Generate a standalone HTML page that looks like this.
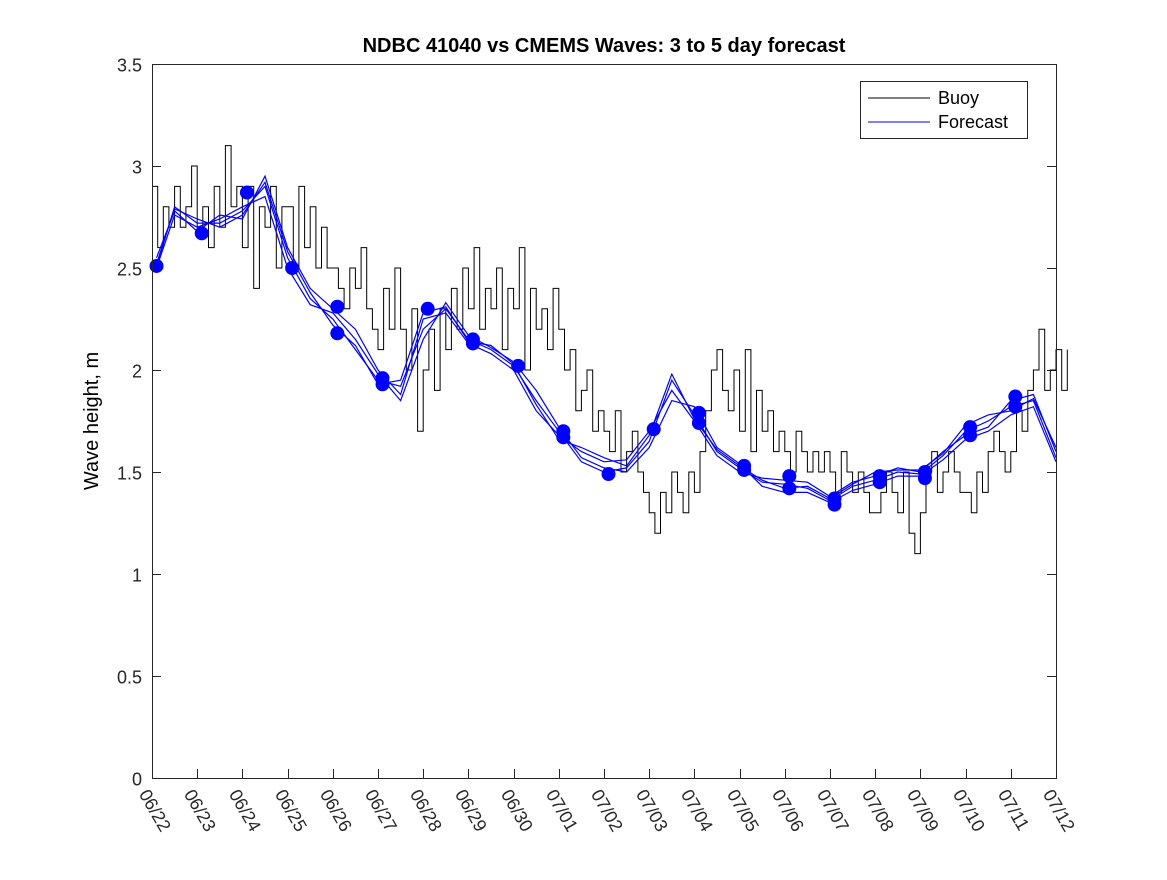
<!DOCTYPE html>
<html><head><meta charset="utf-8"><style>
body{margin:0;background:#fff;}
svg text{font-family:"Liberation Sans","DejaVu Sans",sans-serif;}
</style></head><body>
<svg id="chart" width="1167" height="875" viewBox="0 0 1167 875" xmlns="http://www.w3.org/2000/svg">
<rect x="0" y="0" width="1167" height="875" fill="#fff"/>
<text x="604" y="52" text-anchor="middle" font-size="20" font-weight="bold">NDBC 41040 vs CMEMS Waves: 3 to 5 day forecast</text>
<text transform="translate(98,421) rotate(-90)" text-anchor="middle" font-size="20">Wave height, m</text>
<g id="plot"></g>
<rect x="152.5" y="64.5" width="904" height="714" fill="none" stroke="#262626" stroke-width="1"/>
<g>
<rect x="860.5" y="81.5" width="167" height="57" fill="#fff" stroke="#262626"/>
<line x1="868" y1="98" x2="930" y2="98" stroke="#000"/>
<text x="938" y="104" font-size="18">Buoy</text>
<line x1="868" y1="122" x2="930" y2="122" stroke="#00f"/>
<text x="938" y="128" font-size="18">Forecast</text>
</g>
</svg>
<script>
const yTicks=[0,0.5,1,1.5,2,2.5,3,3.5];
const xTickLabels=["06/22","06/23","06/24","06/25","06/26","06/27","06/28","06/29","06/30","07/01","07/02","07/03","07/04","07/05","07/06","07/07","07/08","07/09","07/10","07/11","07/12"];
const buoyStep=0.125;
const buoy=[2.9,2.6,2.8,2.7,2.9,2.7,2.8,3.0,
2.7,2.8,2.6,2.9,2.7,3.1,2.8,2.9,
2.6,2.9,2.4,2.8,2.7,2.9,2.5,2.8,
2.8,2.5,2.9,2.6,2.8,2.5,2.7,2.5,
2.5,2.4,2.3,2.5,2.4,2.6,2.3,2.2,
2.1,2.4,2.2,2.5,2.2,2.0,2.3,1.7,
2.0,2.2,1.9,2.3,2.1,2.4,2.2,2.5,
2.3,2.6,2.2,2.4,2.3,2.5,2.1,2.4,
2.3,2.6,2.0,2.4,2.2,2.3,2.1,2.4,
2.2,2.0,2.1,1.8,1.9,2.0,1.7,1.8,
1.7,1.6,1.8,1.5,1.6,1.7,1.5,1.4,
1.3,1.2,1.4,1.3,1.5,1.4,1.3,1.5,
1.4,1.6,1.8,2.0,2.1,1.9,1.8,2.0,
1.7,2.1,1.6,1.9,1.7,1.8,1.6,1.7,
1.6,1.5,1.7,1.6,1.5,1.6,1.5,1.6,
1.5,1.4,1.6,1.5,1.4,1.5,1.4,1.3,
1.3,1.4,1.5,1.4,1.3,1.5,1.2,1.1,
1.3,1.5,1.6,1.4,1.5,1.6,1.5,1.4,
1.4,1.3,1.5,1.4,1.6,1.7,1.6,1.5,
1.6,1.8,1.7,1.9,2.0,2.2,1.9,2.0,
2.1,1.9,2.1];
const fcStep=0.5;
const fcA=[2.51,2.80,2.72,2.72,2.78,2.90,2.55,2.35,2.25,2.10,1.95,1.92,2.20,2.30,2.15,2.10,2.02,1.85,1.70,1.55,1.50,1.52,1.65,1.95,1.78,1.60,1.52,1.45,1.44,1.42,1.36,1.43,1.46,1.50,1.49,1.58,1.70,1.75,1.82,1.85,1.57];
const fcB=[2.55,2.78,2.68,2.76,2.74,2.95,2.60,2.40,2.30,2.20,2.00,1.88,2.25,2.28,2.13,2.08,2.00,1.80,1.68,1.60,1.55,1.56,1.70,1.90,1.75,1.58,1.50,1.47,1.46,1.45,1.38,1.45,1.48,1.52,1.50,1.60,1.68,1.72,1.85,1.88,1.60];
const fcC=[2.50,2.76,2.70,2.74,2.80,2.85,2.50,2.32,2.28,2.15,1.98,1.85,2.15,2.33,2.17,2.11,2.04,1.90,1.72,1.57,1.52,1.50,1.62,1.85,1.82,1.62,1.54,1.43,1.40,1.40,1.35,1.41,1.44,1.48,1.48,1.56,1.66,1.70,1.78,1.82,1.55];
const fcD=[2.52,2.79,2.74,2.70,2.76,2.92,2.58,2.38,2.22,2.12,1.93,1.95,2.28,2.31,2.14,2.12,2.03,1.83,1.66,1.62,1.57,1.53,1.68,1.98,1.76,1.61,1.53,1.46,1.42,1.43,1.37,1.44,1.50,1.51,1.51,1.59,1.73,1.78,1.80,1.86,1.62];
const markerDays=[0.1,1.1,2.1,3.1,4.1,4.1,5.1,5.1,6.1,7.1,7.1,8.1,9.1,9.1,10.1,11.1,12.1,12.1,13.1,13.1,14.1,14.1,15.1,15.1,16.1,16.1,17.1,17.1,18.1,18.1,19.1,19.1];
const markerVals=[2.51,2.67,2.87,2.50,2.31,2.18,1.96,1.93,2.30,2.15,2.13,2.02,1.70,1.67,1.49,1.71,1.79,1.74,1.53,1.51,1.48,1.42,1.37,1.34,1.48,1.45,1.50,1.47,1.72,1.68,1.87,1.82];

const X0=152,X1=1056,Y0=778,Y1=64;
const xs=d=>X0+(X1-X0)*d/20;
const ys=v=>Y0-(Y0-Y1)*v/3.5;
const NS="http://www.w3.org/2000/svg";
const g=document.getElementById('plot');
function mk(t,a){const e=document.createElementNS(NS,t);for(const k in a)e.setAttribute(k,a[k]);g.appendChild(e);return e;}
yTicks.forEach(v=>{
 const y=Math.round(ys(v))+0.5;
 const l=mk('line',{x1:X0,x2:X0+9,y1:y,y2:y,stroke:'#262626'});
 
 
 const r=mk('line',{x1:X1-9,x2:X1,y1:y,y2:y,stroke:'#262626'});
 
 
 const t=mk('text',{x:X0-10,y:y+7,'text-anchor':'end','font-size':'18',fill:'#262626'});
 t.textContent=String(v);
 
 
});
xTickLabels.forEach((s,i)=>{
 const x=Math.round(xs(i))+0.5;
 const l=mk('line',{x1:x,x2:x,y1:Y0,y2:Y0-9,stroke:'#262626'});
 
 
 const t=mk('text',{transform:`translate(${x-14},${Y0+16}) rotate(60)`,'font-size':'18',fill:'#262626'});
 t.textContent=s;
 
 
});
let p='';
buoy.forEach((v,i)=>{const x=xs(i*buoyStep),y=ys(v);p+=(i?`H${x.toFixed(1)}V${y.toFixed(1)}`:`M${x.toFixed(1)},${y.toFixed(1)}`);});
const bl=mk('path',{d:p,fill:'none',stroke:'#000','stroke-width':1});


[fcA,fcB,fcC,fcD].forEach((arr,k)=>{
 const d=arr.map((v,i)=>(i?'L':'M')+xs(Math.max(i*fcStep,0.1)).toFixed(1)+','+ys(v).toFixed(1)).join('');
 const e=mk('path',{d:d,fill:'none',stroke:'#00f','stroke-width':1.2});
 
 
});
markerDays.forEach((d,i)=>{
 const c=mk('circle',{cx:xs(d),cy:ys(markerVals[i]),r:7,fill:'#00f'});
 
 
});
</script>
</body></html>
